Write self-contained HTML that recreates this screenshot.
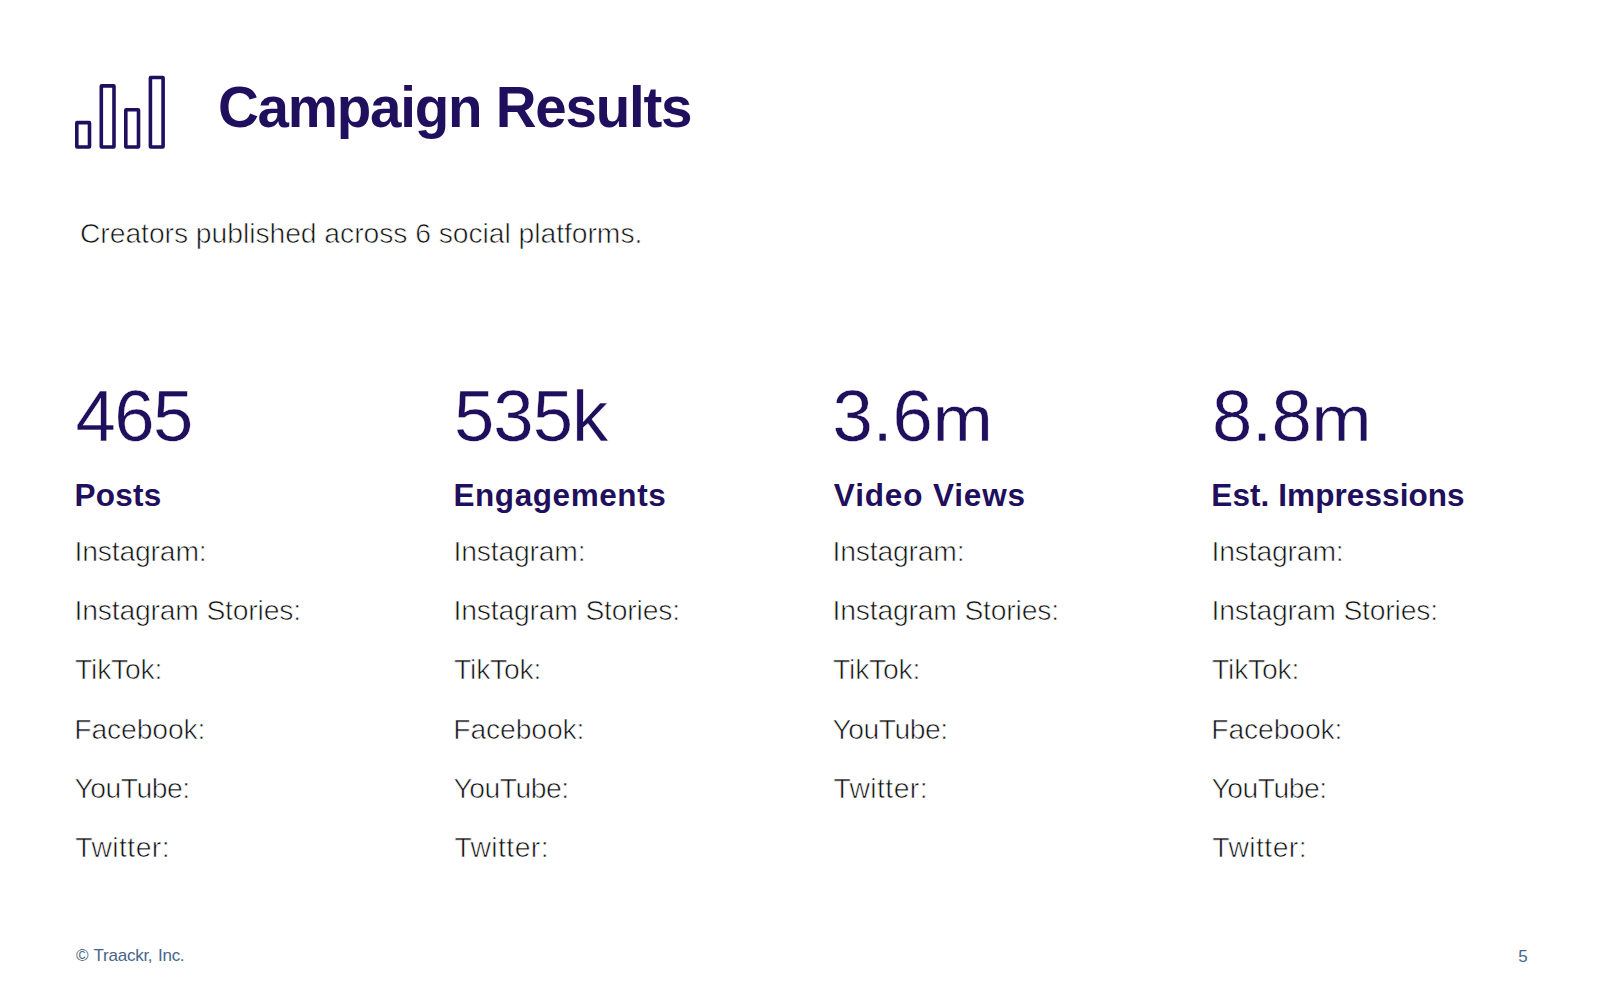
<!DOCTYPE html>
<html lang="en">
<head>
<meta charset="utf-8">
<title>Campaign Results</title>
<style>
html,body{margin:0;padding:0;background:#fff;}
body{width:1600px;height:993px;position:relative;overflow:hidden;font-family:"Liberation Sans",sans-serif;}
.t{position:absolute;white-space:nowrap;line-height:1;margin:0;font-weight:400;}
.title{font-weight:700;color:#1f0f5c;}
.sub,.li{color:#111;-webkit-text-stroke:0.65px #fff;paint-order:fill stroke;}
.num{color:#1f0f5c;-webkit-text-stroke:0.4px #fff;paint-order:fill stroke;}
.m{display:inline-block;transform:scaleY(.893);transform-origin:50% 84.67%;}
.h{font-weight:700;color:#1f0f5c;}
.foot{color:#47658a;}
.icon{position:absolute;left:60px;top:60px;}
</style>
</head>
<body>
<svg class="icon" width="120" height="100" viewBox="0 0 120 100" fill="none" stroke="#1f0f5c" stroke-width="3.6" stroke-linejoin="round">
<rect x="16.8" y="62.6" width="12.7" height="24.4" rx="0.4"/>
<rect x="41.3" y="25.9" width="12.7" height="61.1" rx="0.4"/>
<rect x="65.8" y="49.8" width="12.7" height="37.2" rx="0.4"/>
<rect x="90.4" y="17.5" width="12.7" height="69.5" rx="0.4"/>
</svg>

<h1 id="title" class="t title" style="left:217.96px;top:80.41px;font-size:56.5px;letter-spacing:-1.23px">Campaign Results</h1>
<p id="sub" class="t sub" style="left:79.94px;top:219.01px;font-size:28.3px;letter-spacing:-0.05px">Creators published across 6 social platforms.</p>
<div id="n1" class="t num" style="left:75.49px;top:380.00px;font-size:72.5px;letter-spacing:-1.54px">465</div>
<div id="n2" class="t num" style="left:453.98px;top:380.00px;font-size:72.5px;letter-spacing:-0.99px">535k</div>
<div id="n3" class="t num" style="left:832.50px;top:380.00px;font-size:72.5px;letter-spacing:-0.28px">3.6<span class="m">m</span></div>
<div id="n4" class="t num" style="left:1212.07px;top:380.00px;font-size:72.5px;letter-spacing:-0.50px">8.8<span class="m">m</span></div>
<div id="h1" class="t h" style="left:74.47px;top:480.00px;font-size:31.5px;letter-spacing:0.26px">Posts</div>
<div id="h2" class="t h" style="left:453.42px;top:480.00px;font-size:31.5px;letter-spacing:0.58px">Engagements</div>
<div id="h3" class="t h" style="left:833.85px;top:480.00px;font-size:31.5px;letter-spacing:0.85px">Video Views</div>
<div id="h4" class="t h" style="left:1211.33px;top:480.00px;font-size:31.5px;letter-spacing:0.08px">Est. Impressions</div>
<div id="c0r0" class="t li" style="left:74.55px;top:537.01px;font-size:28.3px;letter-spacing:-0.17px">Instagram:</div>
<div id="c0r1" class="t li" style="left:74.55px;top:596.01px;font-size:28.3px;letter-spacing:-0.18px">Instagram Stories:</div>
<div id="c0r2" class="t li" style="left:75.03px;top:655.01px;font-size:28.3px;letter-spacing:-0.20px">TikTok:</div>
<div id="c0r3" class="t li" style="left:74.23px;top:715.01px;font-size:28.3px;letter-spacing:-0.11px">Facebook:</div>
<div id="c0r4" class="t li" style="left:74.58px;top:774.01px;font-size:28.3px;letter-spacing:-0.52px">YouTube:</div>
<div id="c0r5" class="t li" style="left:75.37px;top:833.01px;font-size:28.3px;letter-spacing:0.42px">Twitter:</div>
<div id="c1r0" class="t li" style="left:453.55px;top:537.01px;font-size:28.3px;letter-spacing:-0.18px">Instagram:</div>
<div id="c1r1" class="t li" style="left:453.55px;top:596.01px;font-size:28.3px;letter-spacing:-0.18px">Instagram Stories:</div>
<div id="c1r2" class="t li" style="left:454.03px;top:655.01px;font-size:28.3px;letter-spacing:-0.19px">TikTok:</div>
<div id="c1r3" class="t li" style="left:453.23px;top:715.01px;font-size:28.3px;letter-spacing:-0.11px">Facebook:</div>
<div id="c1r4" class="t li" style="left:453.58px;top:774.01px;font-size:28.3px;letter-spacing:-0.52px">YouTube:</div>
<div id="c1r5" class="t li" style="left:454.38px;top:833.01px;font-size:28.3px;letter-spacing:0.42px">Twitter:</div>
<div id="c2r0" class="t li" style="left:832.55px;top:537.01px;font-size:28.3px;letter-spacing:-0.18px">Instagram:</div>
<div id="c2r1" class="t li" style="left:832.55px;top:596.01px;font-size:28.3px;letter-spacing:-0.18px">Instagram Stories:</div>
<div id="c2r2" class="t li" style="left:833.03px;top:655.01px;font-size:28.3px;letter-spacing:-0.19px">TikTok:</div>
<div id="c2r3" class="t li" style="left:832.58px;top:715.01px;font-size:28.3px;letter-spacing:-0.52px">YouTube:</div>
<div id="c2r4" class="t li" style="left:833.38px;top:774.01px;font-size:28.3px;letter-spacing:0.42px">Twitter:</div>
<div id="c3r0" class="t li" style="left:1211.55px;top:537.01px;font-size:28.3px;letter-spacing:-0.17px">Instagram:</div>
<div id="c3r1" class="t li" style="left:1211.55px;top:596.01px;font-size:28.3px;letter-spacing:-0.18px">Instagram Stories:</div>
<div id="c3r2" class="t li" style="left:1212.03px;top:655.01px;font-size:28.3px;letter-spacing:-0.20px">TikTok:</div>
<div id="c3r3" class="t li" style="left:1211.23px;top:715.01px;font-size:28.3px;letter-spacing:-0.11px">Facebook:</div>
<div id="c3r4" class="t li" style="left:1211.58px;top:774.01px;font-size:28.3px;letter-spacing:-0.52px">YouTube:</div>
<div id="c3r5" class="t li" style="left:1212.37px;top:833.01px;font-size:28.3px;letter-spacing:0.42px">Twitter:</div>
<div id="f1" class="t foot" style="left:76.00px;top:946.91px;font-size:17px;letter-spacing:-0.26px;word-spacing:1.2px">© Traackr, Inc.</div>
<div id="f2" class="t foot" style="left:1518.25px;top:947.81px;font-size:17px;letter-spacing:0.00px">5</div>
</body>
</html>
